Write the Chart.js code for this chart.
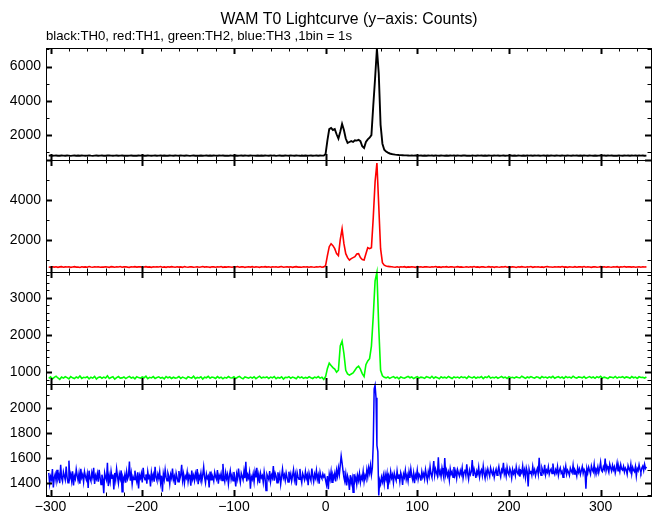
<!DOCTYPE html>
<html><head><meta charset="utf-8">
<script src="https://cdn.jsdelivr.net/npm/chart.js@4"></script>
<style>html,body{margin:0;padding:0;background:#fff;}#wrap{position:relative;width:652px;height:515px;}</style>
</head><body><div id="wrap"><canvas id="c" width="652" height="515"></canvas></div>
<script>
const TITLE = 'WAM T0 Lightcurve (y\u2212axis: Counts)';
const SUBTITLE = 'black:TH0, red:TH1, green:TH2, blue:TH3 ,1bin = 1s';
const seriesNames = ['TH0', 'TH1', 'TH2', 'TH3'];
const seriesColors = ['#000000', '#ff0000', '#00ff00', '#0000ff'];

// x axis (seconds from T0)
const xRange = [-305, 355];
const xTickLabels = [-300, -200, -100, 0, 100, 200, 300];
const xMinorStep = 20;

// y axis per panel
const yRanges = [[550, 7080], [380, 6000], [680, 3690], [1296, 2189]];
const yTickLabels = [[2000, 4000, 6000], [2000, 4000], [1000, 2000, 3000], [1400, 1600, 1800, 2000]];
const yMajorSteps = [2000, 2000, 1000, 200];
const yMinorSteps = [1000, 1000, 200, 100];

// TH0 (2 s bins): before T0 (ending at -2 s), burst (from 0 s), after (from 82 s)
const th0Pre = [805,812,798,808,815,801,795,810,806,799,812,803,790,807,814,800,809,796,811,804,798,806,815,802,793,808,812,799,805,810,801,794,809,813,806,797,804,816,800,807,811,799,803,795,808,814,802,806,798,812,805,809,796,801,815,807,794,803,811,800,806,813,799,808,802,795,810,804,797,809,803,798,812,806,800,815,808,793,805,811,799,807,802,814,796,804,810,801,808,795,812,805,798,809,803,816,800,806,794,810,807,801,813,797,805,809,799,812,804,796,810,803,806,800,814,798,808,795,811,805,799,812,804,808,793,806,815,801,797,809,806,800,811,803,798,813,805,794,810,802,808,797,804,812,800,806,809,799,815,803,807];
const th0Burst = [900,1700,2350,2420,2300,2350,2050,1800,2200,2650,2300,1800,1550,1600,1650,1600,1700,1680,1720,1650,1350,1250,1600,1750,1850,2000,3700,5300,7050,5600,2600,1500,1150,1050,980,930,900,880,860,850,840];
const th0Post = [835,828,822,818,812,808,815,803,810,798,806,812,800,809,795,814,803,808,799,811,804,797,812,806,801,815,798,808,803,810,800,813,805,796,809,812,802,807,794,811,806,799,814,803,808,795,810,801,812,805,798,809,804,815,800,807,811,797,806,803,812,801,808,794,810,805,799,813,802,809,805,811,797,808,803,816,800,806,812,798,809,802,813,805,796,810,804,799,811,807,801,814,806,798,809,803,812,800,808,795,811,805,799,812,806,802,815,797,804,810,803,808,796,811,805,813,800,807,799,812,806,801,814,803,809,798,810,805,812,800,808,803,811,799,806];

// TH1 (2 s bins): before (ending -2 s), burst (from 0 s), after (from 72 s)
const th1Pre = [632,618,645,625,640,612,636,650,622,638,628,642,615,635,648,624,630,610,644,626,638,620,652,630,616,640,628,646,618,634,625,642,632,612,648,636,622,640,630,655,620,636,645,626,614,640,632,650,624,638,642,618,630,648,625,636,612,644,628,640,630,652,620,638,615,642,626,648,634,618,640,625,636,612,650,630,622,645,638,616,628,644,618,635,652,624,640,630,614,646,636,620,642,628,650,615,638,626,644,632,618,640,630,655,622,636,646,612,634,642,626,648,620,638,630,614,644,632,650,624,640,616,635,628,646,622,638,652,618,630,644,626,640,612,636,650,624,632,618,646,630,638,620,645,628,616,642,634,655,622,636];
const th1Burst = [700,1200,1650,1800,1700,1550,1300,1200,2000,2550,1800,1300,1100,980,1050,1100,1150,1280,1300,1100,1000,980,1300,1600,1550,1600,3100,4900,5850,3700,1550,850,720,680,660,650];
const th1Post = [640,628,622,645,618,636,630,648,615,638,626,642,634,612,650,628,640,620,636,645,632,618,644,630,652,625,638,614,642,628,648,622,636,640,616,634,650,626,638,620,630,646,618,642,628,655,624,636,612,644,638,620,632,648,626,640,615,646,630,622,642,628,650,618,636,624,644,632,610,640,626,648,634,620,642,630,652,616,638,628,645,622,636,614,640,650,628,634,618,646,630,640,624,652,626,638,612,644,632,620,648,618,636,642,628,655,622,640,630,614,636,646,620,632,650,626,642,618,638,628,622,640,634,648,616,636,630,652,624,642,638,626,644,620,632,646,618,640,628,636];

// TH2 (2 s bins): before (ending -2 s), burst (from 0 s), after (from 66 s)
const th2Pre = [830,872,815,858,890,842,805,866,838,875,852,818,880,845,826,868,840,895,832,860,848,875,820,862,838,885,814,855,870,836,866,842,898,828,856,874,810,850,880,838,845,870,825,858,884,840,862,818,876,852,835,868,848,890,822,860,842,878,830,856,872,838,855,815,880,846,868,828,862,840,850,882,832,865,845,820,875,855,838,890,826,858,842,875,815,862,848,885,835,868,855,830,878,842,865,820,858,838,880,850,842,872,828,860,885,845,818,868,852,836,866,840,875,825,858,890,838,862,848,872,830,865,845,880,822,856,840,875,812,860,852,878,835,865,848,820,882,845,868,832,858,840,875,850,828,866,845,880,838,862,805];
const th2Burst = [880,1100,1240,1180,1120,1080,1000,1050,1700,1830,1500,1050,950,920,950,980,1050,1120,1160,1080,960,880,1200,1300,1360,1700,2500,3450,3680,2200,1050,900,860];
const th2Post = [845,868,832,858,880,842,865,820,872,850,838,862,885,848,870,826,856,878,840,865,852,830,875,860,842,888,835,868,850,822,876,845,862,838,882,855,828,870,848,865,840,878,852,866,830,885,858,842,875,836,862,848,880,825,868,852,890,838,860,845,872,835,858,882,846,866,828,875,850,862,838,870,855,842,888,860,832,868,848,880,856,840,875,862,830,882,850,866,842,872,848,885,835,860,875,845,868,828,880,852,866,842,890,855,838,872,860,845,878,834,858,880,846,868,832,875,852,886,840,865,850,828,872,860,845,882,838,866,855,876,842,870,858,835,880,848,865,830,874,856,862,840,868];

// TH3 (1 s bins): before (ending -1 s), burst (from 0 s), after (from 66 s)
const th3Pre = [1480,1395,1452,1428,1510,1365,1442,1470,1418,1505,1432,1460,1398,1545,1440,1412,1488,1455,1425,1530,
1447,1402,1578,1438,1470,1415,1492,1380,1455,1432,1508,1460,1420,1475,1395,1512,1443,1466,1408,1490,
1452,1425,1470,1360,1498,1436,1415,1483,1447,1520,1392,1458,1432,1475,1410,1505,1442,1388,1466,1430,
1318,1480,1445,1422,1560,1375,1455,1410,1492,1437,1468,1348,1480,1425,1512,1450,1398,1470,1435,1500,
1330,1445,1420,1465,1402,1488,1432,1455,1570,1418,1475,1390,1450,1428,1498,1442,1410,1485,1356,1462,
1438,1475,1405,1520,1448,1425,1468,1395,1490,1440,1455,1372,1482,1430,1465,1410,1528,1445,1420,1470,
1436,1490,1402,1458,1330,1472,1428,1505,1446,1418,1480,1455,1392,1468,1440,1515,1425,1452,1385,1478,
1444,1410,1495,1432,1462,1545,1420,1470,1398,1455,1438,1488,1412,1465,1442,1378,1498,1430,1460,1418,
1475,1440,1510,1390,1458,1432,1480,1415,1465,1528,1445,1402,1472,1438,1455,1365,1490,1425,1468,1448,
1415,1485,1450,1430,1502,1395,1460,1438,1475,1420,1552,1445,1410,1482,1436,1468,1392,1455,1498,1428,
1462,1418,1488,1440,1372,1470,1432,1515,1448,1405,1478,1452,1425,1495,1438,1568,1412,1465,1440,1485,
1355,1450,1428,1472,1410,1490,1445,1520,1422,1465,1398,1478,1442,1458,1405,1488,1435,1340,1470,1450,
1428,1495,1412,1462,1440,1535,1418,1478,1455,1402,1485,1432,1468,1390,1452,1510,1440,1465,1420,1480,
1445,1408,1490,1436,1472,1415,1458,1505,1425,1468,1380,1482,1448,1430,1512,1440,1402,1475,1452,1425,
1490,1438,1465,1382,1478,1445,1420,1515,1455,1410,1470,1440,1498,1428,1462,1395,1485,1450,1435,1472,
1448,1462];
const th3Burst = [1420,1385,1455,1350,1470,1430,1490,1405,1465,1440,1478,1412,1500,1455,1520,1468,1540,1615,1560,1498,
1445,1410,1470,1380,1455,1425,1345,1462,1400,1438,1325,1470,1415,1448,1390,1460,1420,1475,1405,1452,
1430,1492,1410,1460,1435,1505,1450,1520,1480,1540,1465,1520,1710,2150,2180,2080,1700,1650,1300,1420,
1390,1445,1410,1460,1395,1470];
const th3Post = [1430,1475,1350,1452,1418,1490,1440,1465,1402,1478,1445,1420,1495,1438,1468,1410,1482,1452,1385,1470,
1445,1500,1428,1462,1415,1488,1440,1512,1455,1425,1478,1398,1465,1442,1502,1430,1470,1455,1418,1490,
1448,1475,1432,1505,1460,1420,1488,1452,1530,1470,1445,1500,1575,1462,1510,1480,1455,1605,1470,1495,
1450,1520,1478,1440,1598,1465,1500,1455,1485,1425,1512,1470,1490,1445,1528,1462,1495,1438,1505,1478,
1455,1498,1470,1520,1440,1485,1508,1462,1548,1475,1430,1500,1468,1490,1582,1455,1510,1478,1440,1495,
1470,1525,1448,1488,1505,1460,1535,1475,1438,1498,1465,1512,1480,1452,1520,1490,1468,1502,1445,1485,
1510,1462,1495,1530,1478,1448,1505,1488,1560,1470,1500,1455,1525,1482,1465,1515,1490,1440,1508,1475,
1498,1460,1528,1485,1470,1512,1450,1495,1480,1535,1465,1502,1445,1520,1488,1372,1510,1475,1498,1462,
1530,1480,1505,1458,1492,1515,1470,1600,1488,1462,1520,1495,1478,1545,1465,1502,1485,1528,1470,1498,
1512,1475,1555,1490,1468,1505,1482,1530,1460,1498,1520,1478,1492,1445,1510,1488,1535,1470,1502,1485,
1460,1518,1495,1480,1540,1472,1505,1490,1455,1522,1485,1512,1468,1498,1530,1475,1508,1492,1355,1515,
1480,1525,1498,1470,1535,1505,1488,1548,1475,1512,1495,1530,1482,1518,1565,1500,1490,1528,1508,1595,
1498,1535,1512,1485,1550,1520,1495,1540,1505,1528,1480,1515,1560,1498,1525,1490,1545,1510,1502,1532,
1488,1520,1505,1470,1538,1512,1495,1548,1475,1525,1502,1490,1530,1455,1515,1498,1545,1508,1485,1520,
1535,1500,1548,1515,1528];

function endAt(vals, end, step) { const n = vals.length; return vals.map((v, k) => ({x: end - (n - 1 - k) * step, y: v})); }
function startAt(vals, start, step) { return vals.map((v, k) => ({x: start + k * step, y: v})); }

const seriesData = [
  [...endAt(th0Pre, -2, 2), ...startAt(th0Burst, 0, 2), ...startAt(th0Post, 82, 2)],
  [...endAt(th1Pre, -2, 2), ...startAt(th1Burst, 0, 2), ...startAt(th1Post, 72, 2)],
  [...endAt(th2Pre, -2, 2), ...startAt(th2Burst, 0, 2), ...startAt(th2Post, 66, 2)],
  [...endAt(th3Pre, -1, 1), ...startAt(th3Burst, 0, 1), ...startAt(th3Post, 66, 1)]
];
const lineWidths = [1.9, 1.6, 1.6, 1.5];

const FONT = '"Liberation Sans", Arial, Helvetica, sans-serif';
const fmt = v => String(v).replace('-', '\u2212');

const scales = {
  x: {
    type: 'linear', position: 'bottom', min: xRange[0], max: xRange[1],
    grid: {display: false, drawTicks: false}, border: {display: false},
    ticks: {autoSkip: false, maxRotation: 0, color: '#000', padding: 3,
      font: {family: FONT, size: 14}, callback: v => fmt(v)},
    afterBuildTicks: s => { s.ticks = xTickLabels.map(v => ({value: v})); },
    afterFit: s => { s.height = 19; }
  }
};
seriesNames.forEach((n, i) => {
  scales['y' + i] = {
    type: 'linear', position: 'left', stack: 'panels', stackWeight: 1, weight: 3 - i,
    min: yRanges[i][0], max: yRanges[i][1],
    grid: {display: false, drawTicks: false}, border: {display: false},
    ticks: {autoSkip: false, color: '#000', padding: 5,
      font: {family: FONT, size: 14}, callback: v => fmt(v)},
    afterBuildTicks: s => { s.ticks = yTickLabels[i].map(v => ({value: v})); },
    afterFit: s => { s.width = 46; }
  };
});

const framePlugin = {
  id: 'frame',
  afterDatasetsDraw(chart) {
    const ctx = chart.ctx, xs = chart.scales.x, {left, right} = chart.chartArea;
    ctx.save();
    ctx.strokeStyle = '#000';
    const seg = (x1, y1, x2, y2, w) => { ctx.lineWidth = w; ctx.beginPath(); ctx.moveTo(x1, y1); ctx.lineTo(x2, y2); ctx.stroke(); };
    seriesNames.forEach((n, i) => {
      const s = chart.scales['y' + i];
      const top = s.top, bot = s.bottom;
      ctx.lineWidth = 1;
      ctx.strokeRect(Math.round(left) + 0.5, Math.round(top) + 0.5, Math.round(right - left), Math.round(bot - top));
      for (let t = Math.ceil(xRange[0] / xMinorStep) * xMinorStep; t <= xRange[1]; t += xMinorStep) {
        const px = Math.round(xs.getPixelForValue(t)) + 0.5;
        const major = t % 100 === 0;
        const L = major ? 6 : 3.5, w = major ? 2 : 1;
        seg(px, top, px, top + L, w);
        seg(px, bot, px, bot - L, w);
      }
      const ms = yMinorSteps[i];
      for (let v = Math.ceil(s.min / ms) * ms; v <= s.max; v += ms) {
        const py = Math.round(s.getPixelForValue(v)) + 0.5;
        const major = v % yMajorSteps[i] === 0;
        const L = major ? 6 : 3.5, w = major ? 2 : 1;
        seg(left, py, left + L, py, w);
        seg(right, py, right - L, py, w);
      }
    });
    ctx.restore();
  },
  afterDraw(chart) {
    const ctx = chart.ctx;
    ctx.save();
    ctx.fillStyle = '#000';
    ctx.textBaseline = 'alphabetic';
    ctx.font = '15.8px ' + FONT;
    ctx.textAlign = 'center';
    ctx.fillText(TITLE, 349, 23.5);
    ctx.font = '13.2px ' + FONT;
    ctx.textAlign = 'left';
    ctx.fillText(SUBTITLE, 46, 39.5);
    ctx.restore();
  }
};

new Chart(document.getElementById('c'), {
  type: 'line',
  data: {
    datasets: seriesNames.map((n, i) => ({
      label: n, data: seriesData[i], yAxisID: 'y' + i, xAxisID: 'x',
      borderColor: seriesColors[i], backgroundColor: seriesColors[i],
      borderWidth: lineWidths[i], pointRadius: 0, tension: 0, clip: false, fill: false
    }))
  },
  options: {
    responsive: false, animation: false,
    layout: {padding: {top: 48, right: 1, bottom: 0, left: 0}},
    plugins: {legend: {display: false}, tooltip: {enabled: false}, title: {display: false}},
    scales
  },
  plugins: [framePlugin]
});
</script></body></html>
